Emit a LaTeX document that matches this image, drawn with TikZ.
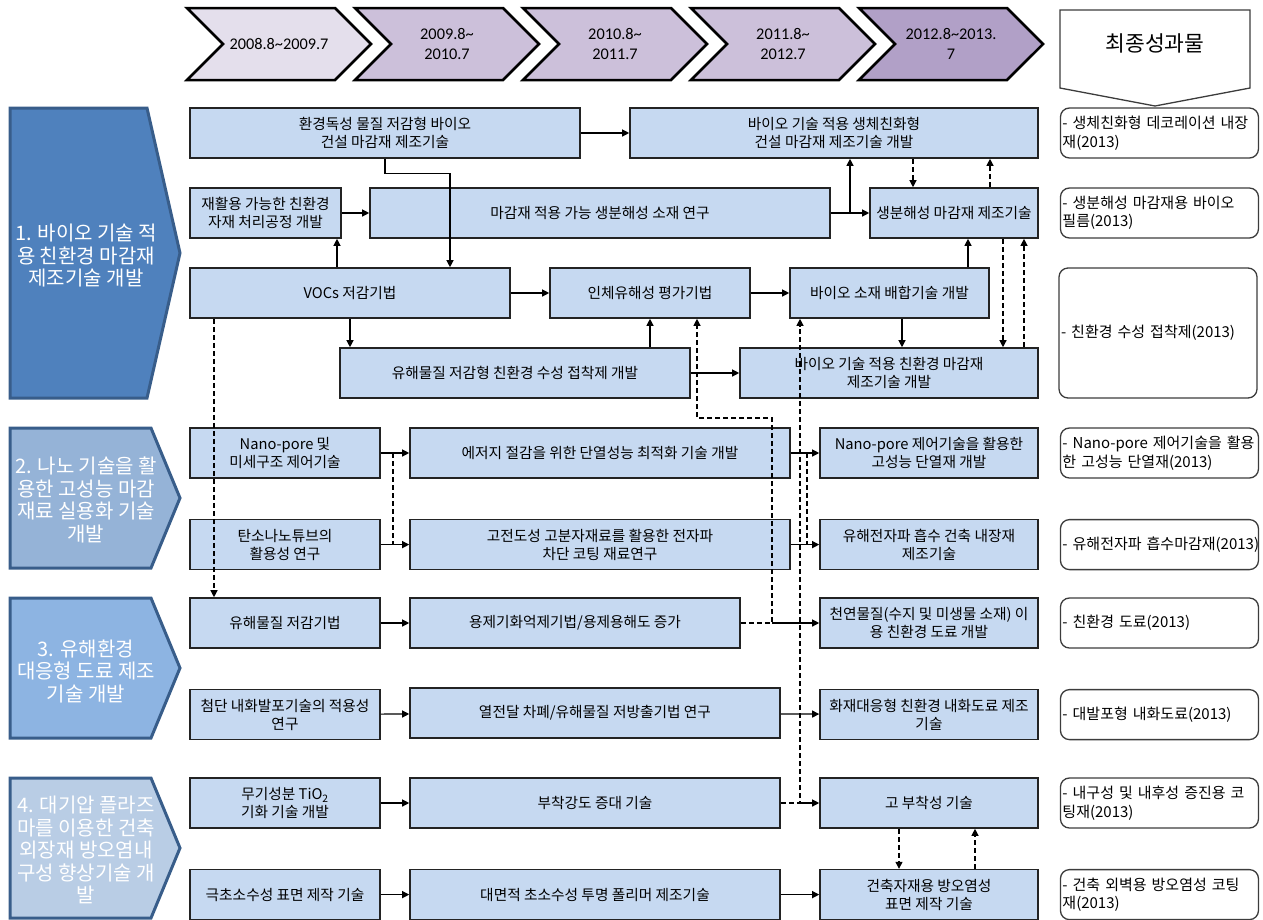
\documentclass[tikz,border=0pt]{standalone}
\usepackage{fontspec}
\setmainfont{Noto Sans CJK KR}
\newfontfamily\chevfont{Carlito}
\usepackage{tikz}
\usetikzlibrary{arrows.meta,shapes.symbols,positioning}
\usepackage{xcolor}
\definecolor{boxfill}{RGB}{198,217,241}
\definecolor{boxline}{RGB}{35,35,35}
\definecolor{resline}{RGB}{60,60,60}
\definecolor{secline}{RGB}{56,93,138}
\definecolor{secone}{RGB}{79,129,189}
\definecolor{sectwo}{RGB}{149,179,215}
\definecolor{secthree}{RGB}{141,180,226}
\definecolor{secfour}{RGB}{185,205,229}
\definecolor{perlight}{RGB}{228,223,236}
\definecolor{permid}{RGB}{204,192,218}
\definecolor{perdark}{RGB}{177,160,199}
\newcommand{\tskfont}{\fontsize{14.7}{18}\selectfont}
\newcommand{\rsltfont}{\fontsize{15}{18.5}\selectfont}
\newcommand{\sctfont}{\fontsize{20}{22.5}\selectfont}
\newcommand{\hdrfont}{\fontsize{21.5}{26}\selectfont}
\newcommand{\prdfont}{\chevfont\fontsize{16.3}{20}\selectfont}
\tikzstyle{task} = [rectangle, draw=boxline, fill=boxfill, line width=1.6pt, align=center, inner sep=0.5pt, minimum height=50pt, font=\tskfont]
\tikzstyle{result} = [rectangle, rounded corners=9pt, draw=resline, fill=white, line width=1.3pt, align=left, text width=194pt, inner xsep=2pt, minimum height=50pt, font=\rsltfont]
\tikzstyle{period} = [signal, signal from=west, signal to=east, signal pointer angle=90, draw=black, line width=2.5pt, minimum width=184pt, minimum height=72pt, align=center, inner sep=1pt, font=\prdfont]
\tikzstyle{section} = [draw=secline, line width=3pt, line join=miter]
\tikzstyle{sectext} = [text=white, align=center, font=\sctfont]
\tikzstyle{arrow} = [line width=1.2pt, ->, >={Triangle[length=7pt,width=7pt]}]
\tikzstyle{darrow} = [arrow, dash pattern=on 5pt off 3pt]
\tikzstyle{dline} = [line width=1.2pt, dash pattern=on 5pt off 3pt]

\begin{document}
\begin{tikzpicture}[x=1pt, y=-1pt]
\useasboundingbox (0,0) rectangle (1263,919);

% Periods
\node[period, fill=perlight] (per1) at (279,44) {2008.8\textasciitilde2009.7};
\node[period, fill=permid] (per2) at (447,44) {2009.8\textasciitilde\\2010.7};
\node[period, fill=permid] (per3) at (615,44) {2010.8\textasciitilde\\2011.7};
\node[period, fill=permid] (per4) at (783,44) {2011.8\textasciitilde\\2012.7};
\node[period, fill=perdark] (per5) at (951,44) {2012.8\textasciitilde2013.\\7};
\draw[draw=resline, line width=1.3pt] (1060,10) -- (1250,10) -- (1250,88) -- (1155,106) -- (1060,88) -- cycle;
\node[font=\hdrfont] (final) at (1155,43) {최종성과물};

% Sections
\draw[section, fill=secone] (10,108) -- (147,108) -- (180,253) -- (147,398) -- (10,398) -- cycle;
\draw[section, fill=sectwo] (10,428) -- (151,428) -- (180,498) -- (151,568) -- (10,568) -- cycle;
\draw[section, fill=secthree] (10,598) -- (151,598) -- (180,668) -- (151,738) -- (10,738) -- cycle;
\draw[section, fill=secfour] (10,778) -- (151,778) -- (180,848) -- (151,918) -- (10,918) -- cycle;
\node[sectext] (sec1) at (86,256) {1. 바이오 기술 적\\용 친환경 마감재\\제조기술 개발};
\node[sectext] (sec2) at (86,500) {2. 나노 기술을 활\\용한 고성능 마감\\재료 실용화 기술\\개발};
\node[sectext] (sec3) at (86,671) {3. 유해환경\\대응형 도료 제조\\기술 개발};
\node[sectext] (sec4) at (86,850) {4. 대기압 플라즈\\마를 이용한 건축\\외장재 방오염내\\구성 향상기술 개\\발};

% Bio finishing materials
\node[task, minimum width=390pt] (env) at (385,133) {환경독성 물질 저감형 바이오\\건설 마감재 제조기술};
\node[task, minimum width=408pt] (biodev) at (834,133) {바이오 기술 적용 생체친화형\\건설 마감재 제조기술 개발};
\node[task, minimum width=151pt] (recyc) at (265.5,213) {재활용 가능한 친환경\\자재 처리공정 개발};
\node[task, minimum width=460pt] (degr) at (600,213) {마감재 적용 가능 생분해성 소재 연구};
\node[task, minimum width=168pt] (degrmk) at (954,213) {생분해성 마감재 제조기술};
\node[task, minimum width=320pt] (voc) at (350,293) {VOCs 저감기법};
\node[task, minimum width=200pt] (human) at (650,293) {인체유해성 평가기법};
\node[task, minimum width=199pt] (blend) at (889.5,293) {바이오 소재 배합기술 개발};
\node[task, minimum width=350pt] (adh) at (515,373) {유해물질 저감형 친환경 수성 접착제 개발};
\node[task, minimum width=298pt] (biofin) at (889,373) {바이오 기술 적용 친환경 마감재\\제조기술 개발};

% Nano materials
\node[task, minimum width=190pt] (nano) at (285,453) {Nano-pore 및\\미세구조 제어기술};
\node[task, minimum width=380pt] (insul) at (600,453) {에저지 절감을 위한 단열성능 최적화 기술 개발};
\node[task, minimum width=218pt] (nanoins) at (929,453) {Nano-pore 제어기술을 활용한\\고성능 단열재 개발};
\node[task, minimum width=190pt, below=40pt of nano] (cnt) {탄소나노튜브의\\활용성 연구};
\node[task, minimum width=380pt, below=40pt of insul] (emi) {고전도성 고분자재료를 활용한 전자파\\차단 코팅 재료연구};
\node[task, minimum width=218pt, below=40pt of nanoins] (emiab) {유해전자파 흡수 건축 내장재\\제조기술};

% Paints
\node[task, minimum width=190pt] (harm) at (285,623) {유해물질 저감기법};
\node[task, minimum width=330pt] (solv) at (575,623) {용제기화억제기법/용제용해도 증가};
\node[task, minimum width=218pt] (natur) at (929,623) {천연물질(수지 및 미생물 소재) 이\\용 친환경 도료 개발};
\node[task, minimum width=190pt, below=40pt of harm] (fire) {첨단 내화발포기술의 적용성\\연구};
\node[task, minimum width=370pt] (heat) at (595,713) {열전달 차폐/유해물질 저방출기법 연구};
\node[task, minimum width=218pt, below=40pt of natur] (fireproof) {화재대응형 친환경 내화도료 제조\\기술};

% Plasma coatings
\node[task, minimum width=190pt] (tio) at (285,803) {무기성분 TiO\textsubscript{2}\\기화 기술 개발};
\node[task, minimum width=370pt] (bond) at (595,803) {부착강도 증대 기술};
\node[task, minimum width=218pt] (hibond) at (929,803) {고 부착성 기술};
\node[task, minimum width=190pt, below=40pt of tio] (super) {극초소수성 표면 제작 기술};
\node[task, minimum width=370pt, below=40pt of bond] (poly) {대면적 초소수성 투명 폴리머 제조기술};
\node[task, minimum width=218pt, below=40pt of hibond] (antif) {건축자재용 방오염성\\표면 제작 기술};

% Final outputs
\node[result, right=21pt of biodev] (resA) {- 생체친화형 데코레이션 내장\\재(2013)};
\node[result, right=21pt of degrmk] (resB) {- 생분해성 마감재용 바이오\\필름(2013)};
\node[result, minimum height=130pt] (resCD) at (1158,333) {- 친환경 수성 접착제(2013)};
\node[result, right=21pt of nanoins] (resE) {- Nano-pore 제어기술을 활용\\한 고성능 단열재(2013)};
\node[result, right=21pt of emiab] (resF) {\mbox{- 유해전자파 흡수마감재(2013)}};
\node[result, right=21pt of natur] (resG) {- 친환경 도료(2013)};
\node[result, right=21pt of fireproof] (resH) {- 대발포형 내화도료(2013)};
\node[result, right=21pt of hibond] (resI) {- 내구성 및 내후성 증진용 코\\팅재(2013)};
\node[result, right=21pt of antif] (resJ) {- 건축 외벽용 방오염성 코팅\\재(2013)};

% Links, section 1
\draw[arrow] (env) -- (biodev);
\draw[arrow] (env.south) -- ++(0,15) -| (voc.north -| 450,0);
\draw[arrow] (recyc) -- (degr);
\draw[arrow] (voc.north -| 337,0) -- (recyc.south -| 337,0);
\draw[arrow] (degr) -- (degrmk);
\draw[arrow] (degr.east -| 850,0) -- (biodev.south -| 850,0);
\draw[darrow] (biodev.south -| 913,0) -- (degrmk.north -| 913,0);
\draw[darrow] (degrmk.north -| 990,0) -- (biodev.south -| 990,0);
\draw[arrow] (blend.north -| 968,0) -- (degrmk.south -| 968,0);
\draw[darrow] (degrmk.south -| 1003,0) -- (biofin.north -| 1003,0);
\draw[darrow] (biofin.north -| 1024,0) -- (degrmk.south -| 1024,0);
\draw[arrow] (voc) -- (human);
\draw[arrow] (human) -- (blend);
\draw[arrow] (voc.south) -- (voc.south |- adh.north);
\draw[arrow] (human.south |- adh.north) -- (human.south);
\draw[arrow] (adh) -- (biofin);
\draw[arrow] (blend.south -| 902,0) -- (biofin.north -| 902,0);

% Links, section 2
\draw[arrow] (nano) -- (insul);
\draw[arrow] (cnt) -- (emi);
\draw[arrow] (insul) -- (nanoins);
\draw[arrow] (emi) -- (emiab);
\draw[dline] (nano.east -| 393,0) -- (cnt.east -| 393,0);
\draw[dline] (insul.east -| 807,0) -- (emi.east -| 807,0);

% Links, section 3 and 4
\coordinate (solvjoin) at (solv.east -| 772,0);
\coordinate (bondjoin) at (bond.east -| 800,0);
\draw[arrow] (harm) -- (solv);
\draw[arrow] (solvjoin) -- (natur);
\draw[arrow] (fire) -- (heat);
\draw[arrow] (heat) -- (fireproof);
\draw[arrow] (tio) -- (bond);
\draw[arrow] (bondjoin) -- (hibond);
\draw[arrow] (super) -- (poly);
\draw[arrow] (poly) -- (antif);
\draw[darrow] (hibond.south -| 899,0) -- (antif.north -| 899,0);
\draw[darrow] (antif.north -| 975,0) -- (hibond.south -| 975,0);

% Long dashed links
\draw[darrow] (voc.south -| 214,0) -- (harm.north -| 214,0);
\draw[darrow] (solv.east) -- (solvjoin) -- (772,418) -| (human.south -| 697,0);
\draw[darrow] (bond.east) -- (bondjoin) -- (blend.south -| bondjoin);
\end{tikzpicture}
\end{document}
